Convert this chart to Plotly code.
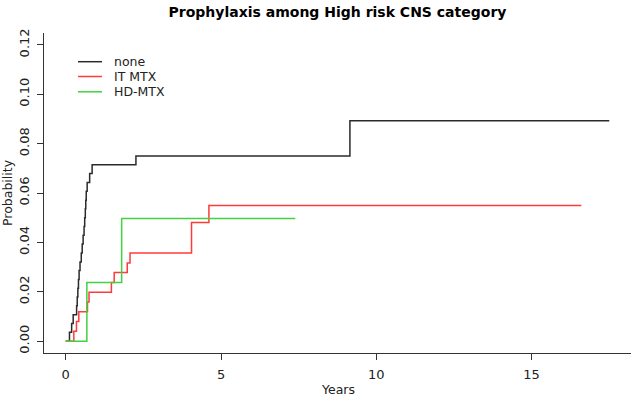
import plotly.graph_objects as go

# ---- data ----
none_t = [0, 0.12, 0.19, 0.24, 0.35, 0.37, 0.39, 0.41, 0.43, 0.46, 0.50, 0.53, 0.56,
          0.59, 0.61, 0.63, 0.645, 0.66, 0.69, 0.77, 0.85, 2.26, 9.15, 17.5]
none_p = [0, 0.0036, 0.0071, 0.0107, 0.0143, 0.0179, 0.0214, 0.0250, 0.0286, 0.0321,
          0.0357, 0.0393, 0.0429, 0.0464, 0.0500, 0.0536, 0.0571, 0.0607, 0.0643,
          0.0679, 0.0714, 0.0750, 0.0893, 0.0893]

itmtx_t = [0, 0.26, 0.345, 0.42, 0.70, 0.75, 1.47, 1.56, 1.98, 2.07, 4.05, 4.61, 16.6]
itmtx_p = [0, 0.0040, 0.0080, 0.0119, 0.0159, 0.0198, 0.0238, 0.0278, 0.0317, 0.0357,
           0.0481, 0.0549, 0.0549]

hdmtx_t = [0, 0.68, 1.80, 7.39]
hdmtx_p = [0, 0.0238, 0.0497, 0.0497]

series_names = ["none", "IT MTX", "HD-MTX"]
series_colors = ["#2b2b2b", "#ff3a3a", "#40d240"]

x_ticks = [0, 5, 10, 15]
y_ticks = [0.00, 0.02, 0.04, 0.06, 0.08, 0.10, 0.12]

title_text = "Prophylaxis among High risk CNS category"
x_title = "Years"
y_title = "Probability"

# ---- layout geometry ----
W, H = 631, 398
ML, MR, MT, MB = 44, 0, 33, 45
PW, PH = W - ML - MR, H - MT - MB
FONT = "DejaVu Sans"


def px_x(px):
    return (px - ML) / PW


def px_y(py):
    return (H - MB - py) / PH


fig = go.Figure()
for t, p, name, col in zip([none_t, itmtx_t, hdmtx_t], [none_p, itmtx_p, hdmtx_p],
                           series_names, series_colors):
    fig.add_trace(go.Scatter(x=t, y=p, mode="lines", name=name,
                             line=dict(color=col, width=1.5, shape="hv"),
                             showlegend=False, hoverinfo="x+y+name"))

# manual legend (line samples + labels)
shapes = []
annotations = []
leg_rows = [61.7, 76.5, 91.8]
for name, col, ry in zip(series_names, series_colors, leg_rows):
    shapes.append(dict(type="line", xref="paper", yref="paper",
                       x0=px_x(78), x1=px_x(102), y0=px_y(ry), y1=px_y(ry),
                       line=dict(color=col, width=1.5)))
    annotations.append(dict(text=name, xref="paper", yref="paper",
                            x=px_x(112), y=px_y(ry), xanchor="left", yanchor="middle",
                            showarrow=False, font=dict(family=FONT, size=12.5, color="#222")))

annotations.append(dict(text=x_title, xref="paper", yref="paper", x=0.5, y=px_y(389.5),
                        xanchor="center", yanchor="middle", showarrow=False,
                        font=dict(family=FONT, size=12.5, color="#222")))
annotations.append(dict(text=y_title, xref="paper", yref="paper", x=px_x(7), y=0.5,
                        xanchor="center", yanchor="middle", textangle=-90, showarrow=False,
                        font=dict(family=FONT, size=12.5, color="#222")))

fig.update_layout(
    width=W, height=H,
    margin=dict(l=ML, r=MR, t=MT, b=MB, pad=0),
    paper_bgcolor="white", plot_bgcolor="white",
    title=dict(text=title_text, x=(ML + PW / 2) / W,
               xanchor="center", y=1 - 12 / H, yanchor="middle", yref="container",
               font=dict(family=FONT, size=14, color="black", weight="bold")),
    shapes=shapes, annotations=annotations,
    xaxis=dict(range=[-0.7, 18.2], tickvals=x_ticks, ticktext=[str(v) for v in x_ticks],
               ticks="outside", ticklen=6, tickcolor="#333", showline=True, linecolor="#333",
               linewidth=1, showgrid=False, zeroline=False, ticklabelstandoff=3,
               tickfont=dict(family=FONT, size=13, color="#222")),
    yaxis=dict(range=[-0.0048, 0.1248], tickvals=y_ticks, ticktext=[f"{v:.2f}" for v in y_ticks],
               ticks="outside", ticklen=6, tickcolor="#333", showline=True, linecolor="#333",
               linewidth=1, showgrid=False, zeroline=False, tickangle=-90, ticklabelstandoff=3,
               tickfont=dict(family=FONT, size=13, color="#222")),
    font=dict(family=FONT),
)

fig.write_html("out.html",
               config={"displayModeBar": False},
               post_script="document.body.style.margin='0px';document.body.style.padding='0px';")
